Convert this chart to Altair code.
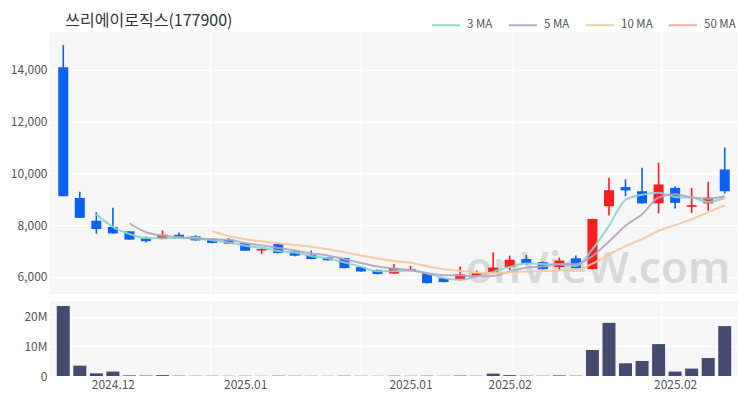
import altair as alt
import pandas as pd

# ---- data ----
idx = list(range(41))
opens = [14100, 9050, 8170, 7930, 7760, 7490, 7470, 7630, 7570, 7480,
         7440, 7310, 7020, 7270, 6980, 6850, 6750, 6730, 6380, 6270,
         6130, 6240, 6140, 5950, 5890, 6050, 6180, 6380, 6690, 6570,
         6380, 6720, 6300, 8730, 9470, 9310, 8840, 9440, 8710, 8840,
         10150]
highs = [14950, 9290, 8500, 8670, 7770, 7560, 7800, 7720, 7610, 7480,
         7500, 7320, 7110, 7310, 7050, 7020, 6760, 6740, 6390, 6280,
         6500, 6430, 6150, 5960, 6400, 6250, 6950, 6820, 6850, 6600,
         6750, 6830, 8250, 9830, 9770, 10220, 10410, 9500, 9440, 9680,
         11000]
lows = [9120, 8280, 7670, 7670, 7430, 7330, 7460, 7520, 7400, 7300,
        7270, 7000, 6880, 6910, 6790, 6680, 6630, 6330, 6200, 6100,
        6120, 6230, 5750, 5790, 5850, 6040, 6170, 6270, 6470, 6290,
        6250, 6330, 6290, 8370, 9120, 8830, 8450, 8640, 8470, 8560,
        9220]
closes = [9120, 8280, 7850, 7680, 7440, 7380, 7630, 7530, 7410, 7310,
          7280, 7010, 7080, 6920, 6820, 6690, 6640, 6340, 6210, 6110,
          6340, 6300, 5760, 5800, 6100, 6140, 6360, 6660, 6530, 6300,
          6630, 6340, 8240, 9350, 9340, 8840, 9570, 8860, 8770, 9060,
          9310]
volumes = [23.7e6, 3.5e6, 0.9e6, 1.5e6, 0.2e6, 0.15e6, 0.3e6, 0.1e6, 0.08e6, 0.08e6,
           0.06e6, 0.08e6, 0.05e6, 0.1e6, 0.08e6, 0.06e6, 0.05e6, 0.1e6, 0.07e6, 0.05e6,
           0.1e6, 0.06e6, 0.1e6, 0.06e6, 0.15e6, 0.08e6, 0.8e6, 0.3e6, 0.1e6, 0.08e6,
           0.2e6, 0.1e6, 8.8e6, 18.0e6, 4.3e6, 5.1e6, 10.8e6, 1.5e6, 2.5e6, 6.1e6,
           16.9e6]
tick_idx = [3, 11, 21, 27, 37]
tick_labels = ["2024.12", "2025.01", "2025.01", "2025.02", "2025.02"]
grid_idx = [8.9, 18.0, 27.2, 36.2]
price_ticks = [6000, 8000, 10000, 12000, 14000]
vol_ticks = [0, 10e6, 20e6]
ma_names = ["3 MA", "5 MA", "10 MA", "50 MA"]
ma_windows = [3, 5, 10, 50]
ma_colors = ["#86d6cb", "#b3a5c5", "#f4c89e", "#f6a29c"]
title_text = "쓰리에이로직스(177900)"
watermark = "onVieW.com"

FONT = "Noto Sans CJK KR"
UP, DOWN = "#fa1e1e", "#0a62f2"

df = pd.DataFrame({"i": idx, "open": opens, "high": highs, "low": lows,
                   "close": closes, "volume": volumes})
grid_df = pd.DataFrame({"g": grid_idx})

xscale = alt.Scale(domain=[-0.5, 40.5], nice=False, zero=False)
label_expr = " : ".join(
    f"datum.value == {v} ? '{t}'" for v, t in zip(tick_idx, tick_labels)
) + " : ''"

W, H_MAIN, H_VOL = 688, 262, 75

base = alt.Chart(df)
cond = alt.condition("datum.close >= datum.open", alt.value(UP), alt.value(DOWN))

grid_rules = alt.Chart(grid_df).mark_rule(color="white", strokeWidth=1).encode(
    x=alt.X("g:Q", scale=xscale, axis=None)
)

wm = alt.Chart(pd.DataFrame({"t": [watermark]})).mark_text(
    font="Noto Sans", fontSize=44, fontWeight=600, color="#d9d9d9",
    align="center", baseline="alphabetic"
).encode(x=alt.value(548), y=alt.value(251), text="t:N")

wick = base.mark_rule(strokeWidth=1.6).encode(
    x=alt.X("i:Q", scale=xscale, axis=None),
    y=alt.Y("low:Q"),
    y2="high:Q",
    color=cond,
)
body = base.mark_bar(size=10).encode(
    x=alt.X("i:Q", scale=xscale, axis=None),
    y=alt.Y("open:Q",
            scale=alt.Scale(domain=[5340, 15460], nice=False, zero=False),
            axis=alt.Axis(values=price_ticks, labelExpr="format(datum.value, ',')",
                          title=None, ticks=False, domain=False, labelPadding=3,
                          gridColor="white", gridWidth=1)),
    y2="close:Q",
    color=cond,
)

color_scale = alt.Scale(domain=ma_names, range=ma_colors)
ma_layers = []
for name, n in zip(ma_names, ma_windows):
    ma_layers.append(
        base.transform_window(ma="mean(close)", cnt="count()", frame=[-(n - 1), 0],
                              sort=[alt.SortField("i")])
        .transform_filter(f"datum.cnt >= {n}")
        .transform_calculate(series=f"'{name}'")
        .mark_line(strokeWidth=2, opacity=0.9, interpolate="monotone")
        .encode(
            x=alt.X("i:Q", scale=xscale, axis=None),
            y=alt.Y("ma:Q"),
            color=alt.Color("series:N", scale=color_scale,
                            legend=alt.Legend(orient="none", legendX=381, legendY=-22,
                                              direction="horizontal", title=None,
                                              symbolType="stroke", symbolSize=784,
                                              symbolStrokeWidth=2, labelFontSize=11.5,
                                              labelColor="#555", labelFont=FONT,
                                              labelOffset=6, columnPadding=12)),
        )
    )

main = alt.layer(grid_rules, wm, body, wick, *ma_layers).properties(
    width=W, height=H_MAIN,
    title=alt.TitleParams(title_text, anchor="start", fontSize=16, font=FONT,
                          fontWeight="normal", color="#333", dx=55, offset=3),
)

vol_grid = alt.Chart(grid_df).mark_rule(color="white", strokeWidth=1).encode(
    x=alt.X("g:Q", scale=xscale)
)
vol_bars = base.mark_bar(size=13, color="#474a70").encode(
    x=alt.X("i:Q", scale=xscale,
            axis=alt.Axis(values=tick_idx, labelExpr=label_expr, title=None,
                          grid=False, ticks=False, domain=False, labelPadding=3)),
    y=alt.Y("volume:Q", scale=alt.Scale(domain=[0, 25.4e6], nice=False),
            axis=alt.Axis(values=vol_ticks,
                          labelExpr="datum.value == 0 ? '0' : format(datum.value / 1000000, 'd') + 'M'",
                          title=None, ticks=False, domain=False, labelPadding=3,
                          gridColor="white", gridWidth=1)),
)
vol = alt.layer(vol_grid, vol_bars).properties(width=W, height=H_VOL)

chart = alt.vconcat(main, vol, spacing=5).properties(
    padding={"left": 2, "top": 2, "right": 0, "bottom": 0}
).configure_view(fill="#f6f6f6", strokeWidth=0).configure_axis(
    labelFont=FONT, labelFontSize=12, labelColor="#555"
)

chart.save("out.html", embed_options={"renderer": "svg", "actions": False})
